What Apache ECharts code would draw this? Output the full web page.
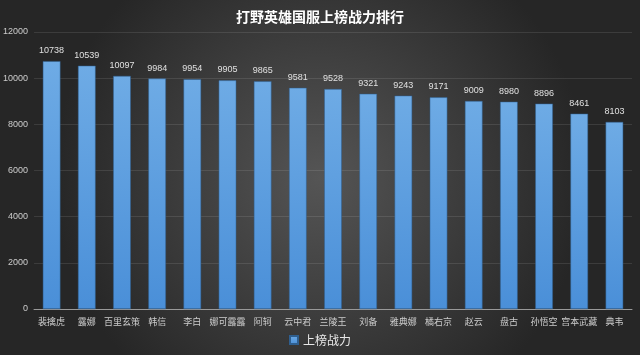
<!DOCTYPE html>
<html><head><meta charset="utf-8">
<script src="https://cdn.jsdelivr.net/npm/echarts@6/dist/echarts.min.js"></script>
<style>html,body{margin:0;padding:0;}#c{width:640px;height:355px;}</style>
</head><body><div id="c"></div>
<script>
const categories = ['裴擒虎','露娜','百里玄策','韩信','李白','娜可露露','阿轲','云中君','兰陵王','刘备','雅典娜','橘右京','赵云','盘古','孙悟空','宫本武藏','典韦'];
const values = [10738,10539,10097,9984,9954,9905,9865,9581,9528,9321,9243,9171,9009,8980,8896,8461,8103];
const yTicks = [0,2000,4000,6000,8000,10000,12000];
const seriesName = '上榜战力';
const titleText = '打野英雄国服上榜战力排行';

const chart = echarts.init(document.getElementById('c'));
chart.setOption({
  backgroundColor: new echarts.graphic.RadialGradient(0.5, 0.5, 0.75, [
    {offset: 0, color: '#555555'},
    {offset: 1, color: '#262626'}
  ]),
  animation: false,
  title: {text: titleText, left: 'center', top: 5,
    textStyle: {color: '#ffffff', fontSize: 14, fontWeight: 'bold', fontFamily: 'Noto Sans CJK SC'}},
  legend: {data: [seriesName], bottom: 4, itemWidth: 8, itemHeight: 8, icon: 'rect',
    textStyle: {color: '#e8e8e8', fontSize: 12, fontFamily: 'Noto Sans CJK SC'}},
  grid: {left: 32, right: 8, top: 32, bottom: 46},
  xAxis: {type: 'category', data: categories,
    axisLine: {lineStyle: {color: '#999999'}}, axisTick: {show: false},
    axisLabel: {color: '#cccccc', fontSize: 9, interval: 0, fontFamily: 'Noto Sans CJK SC'}},
  yAxis: {type: 'value', min: yTicks[0], max: yTicks[yTicks.length-1], interval: 2000,
    axisLine: {show: false}, axisTick: {show: false},
    axisLabel: {color: '#cccccc', fontSize: 9, margin: 6, formatter: v => String(v)},
    splitLine: {lineStyle: {color: 'rgba(255,255,255,0.1)'}}},
  series: [{name: seriesName, type: 'bar', data: values, barWidth: '50%',
    itemStyle: {color: new echarts.graphic.LinearGradient(0,0,0,1,[
      {offset: 0, color: '#6eabe5'}, {offset: 1, color: '#4a8fd8'}]),
      borderColor: '#2f5f8f', borderWidth: 0.5},
    label: {show: true, position: 'top', color: '#e0e0e0', fontSize: 9, distance: 6}}]
});
</script></body></html>
